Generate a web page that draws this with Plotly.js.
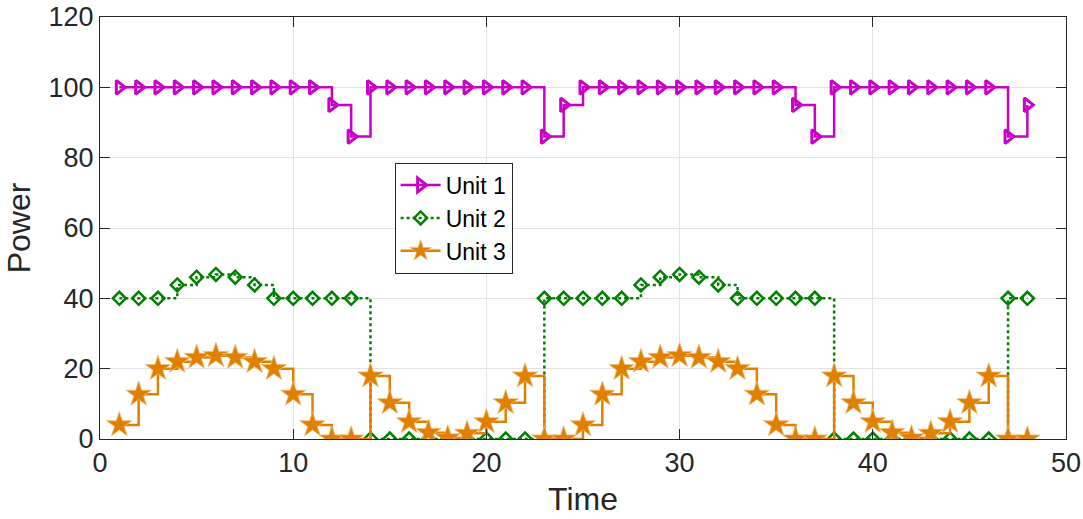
<!DOCTYPE html>
<html>
<head>
<meta charset="utf-8">
<script src="https://cdn.plot.ly/plotly-3.0.1.min.js"></script>
<style>html,body{margin:0;padding:0;background:#fff;}#chart{width:1083px;height:519px;}</style>
</head>
<body>
<div id="chart"></div>
<script>
const time = [1,2,3,4,5,6,7,8,9,10,11,12,13,14,15,16,17,18,19,20,21,22,23,24,25,26,27,28,29,30,31,32,33,34,35,36,37,38,39,40,41,42,43,44,45,46,47,48];
const unit1 = [100,100,100,100,100,100,100,100,100,100,100,95,86,100,100,100,100,100,100,100,100,100,86,95,100,100,100,100,100,100,100,100,100,100,100,95,86,100,100,100,100,100,100,100,100,100,86,95];
const unit2 = [40,40,40,43.8,46,46.8,46,43.8,40,40,40,40,40,0,0,0,0,0,0,0,0,0,40,40,40,40,40,43.8,46,46.8,46,43.8,40,40,40,40,40,0,0,0,0,0,0,0,0,0,40,40];
const unit3 = [4,12.7,20,22,23.2,23.7,23.2,22,20,12.7,4,0,0,17.9,10.3,4.9,1.8,0.3,1.6,4.9,10.3,17.9,0,0,4,12.7,20,22,23.2,23.7,23.2,22,20,12.7,4,0,0,17.9,10.3,4.9,1.8,0.3,1.6,4.9,10.3,17.9,0,0];
const seriesNames = ['Unit 1','Unit 2','Unit 3'];
const xTicks = [0,10,20,30,40,50];
const yTicks = [0,20,40,60,80,100,120];

const traces = [
  {x: time, y: unit1, name: seriesNames[0], mode: 'lines+markers', line: {shape: 'hv', color: '#C800C8', width: 2.5},
   marker: {symbol: 'triangle-right-open', size: 12, color: '#C800C8', line: {width: 3, color: '#C800C8'}}},
  {x: time, y: unit2, name: seriesNames[1], mode: 'lines+markers', line: {shape: 'hv', color: '#008000', width: 2.5, dash: 'dot'},
   marker: {symbol: 'diamond-open', size: 10, color: '#008000', line: {width: 2.5, color: '#008000'}}},
  {x: time, y: unit3, name: seriesNames[2], mode: 'lines+markers', line: {shape: 'hv', color: '#E08000', width: 2.5},
   marker: {symbol: 'star', size: 19, color: '#E08000', line: {width: 0.8, color: '#F2B870'}}}
];

const axisCommon = {
  showgrid: true, gridcolor: '#E3E3E3', gridwidth: 1,
  zeroline: false, showline: true, linecolor: '#262626', linewidth: 1, mirror: 'ticks', ticks: 'inside', ticklen: 10, tickcolor: '#262626',
  tickfont: {size: 27, color: '#262626'}, ticklabeloverflow: 'allow'
};

const layout = {
  width: 1083, height: 519,
  margin: {l: 100, r: 17, t: 17, b: 80},
  paper_bgcolor: '#fff', plot_bgcolor: '#fff',
  font: {family: 'Liberation Sans, Arial, sans-serif', color: '#262626'},
  xaxis: Object.assign({}, axisCommon, {range: [0, 50], tickvals: xTicks, ticktext: xTicks.map(String),
    title: {text: 'Time', font: {size: 32, color: '#262626'}, standoff: 10}}),
  yaxis: Object.assign({}, axisCommon, {range: [0, 120], tickvals: yTicks, ticktext: yTicks.map(String),
    title: {text: 'Power', font: {size: 32, color: '#262626'}, standoff: 8}}),
  legend: {x: 0.305, y: 0.655, xanchor: 'left', yanchor: 'top', bgcolor: '#fff', bordercolor: '#262626', borderwidth: 1,
    font: {size: 23, color: '#000'}, tracegroupgap: 0, itemwidth: 40},
  showlegend: true
};

Plotly.newPlot('chart', traces, layout, {displayModeBar: false, staticPlot: true});
</script>
</body>
</html>
